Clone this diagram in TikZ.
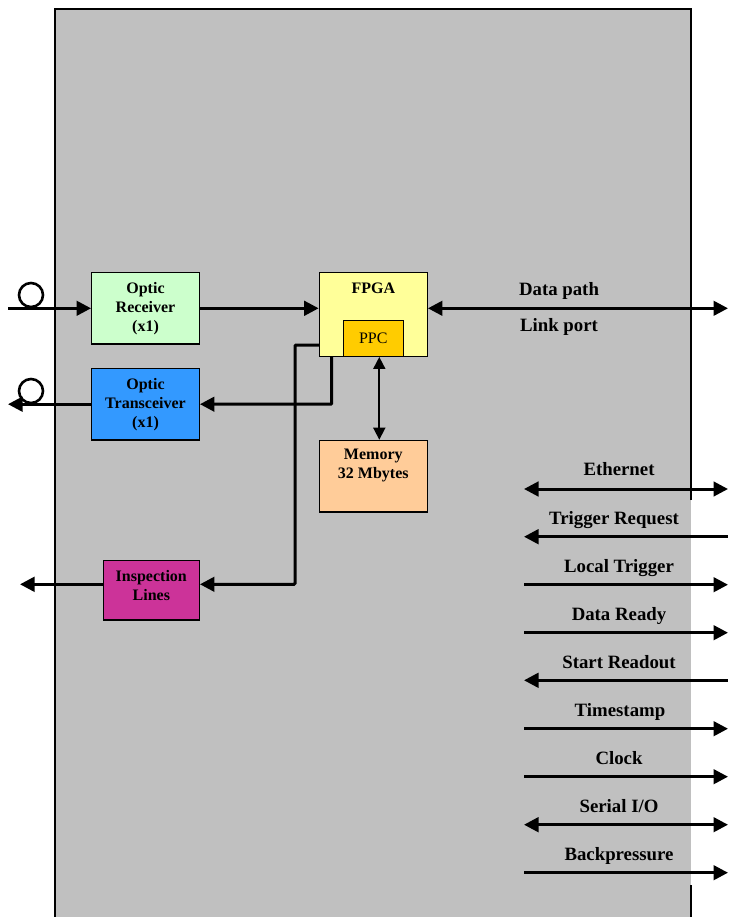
\documentclass[tikz,border=0pt]{standalone}
\usepackage{fontspec}
\setmainfont{Liberation Serif}
\usetikzlibrary{arrows.meta}
\definecolor{panelgray}{HTML}{C0C0C0}
\definecolor{rxgreen}{HTML}{CCFFCC}
\definecolor{fpgayellow}{HTML}{FFFF99}
\definecolor{ppcorange}{HTML}{FFCC00}
\definecolor{txblue}{HTML}{3399FF}
\definecolor{mempeach}{HTML}{FFCC99}
\definecolor{inspmagenta}{HTML}{CC3399}
\tikzset{
  blk/.style={draw=black, line width=1.3pt, rectangle, inner sep=0pt, align=center,
    font=\fontsize{16}{19}\selectfont\bfseries},
  lbl/.style={inner sep=0pt, font=\fontsize{16}{19}\selectfont\bfseries},
  siglbl/.style={inner sep=0pt, anchor=base, font=\fontsize{18.8}{22}\selectfont\bfseries},
  wire/.style={line width=3pt, -{Triangle[length=14.5pt,width=14.5pt]}},
  wireboth/.style={line width=3pt, {Triangle[length=14.5pt,width=14.5pt]}-{Triangle[length=14.5pt,width=14.5pt]}},
  wireleft/.style={line width=3pt, {Triangle[length=14.5pt,width=14.5pt]}-},
  thinboth/.style={line width=1.7pt, {Triangle[length=12pt,width=12pt]}-{Triangle[length=12pt,width=12pt]}},
  fibre/.style={circle, draw=black, line width=2.6pt, minimum size=24pt, inner sep=0pt},
}
\begin{document}
\begin{tikzpicture}[x=1pt, y=-1pt]
\useasboundingbox (0,0) rectangle (731,917);

% backplane panel
\fill[panelgray] (55,9) rectangle (691,917);
\draw[line width=1.3pt] (691,500) -- (691,9) -- (55,9) -- (55,917);
\draw[line width=1.3pt] (691,885) -- (691,917);

% function blocks
\node[blk, fill=rxgreen, minimum width=107.6pt, minimum height=71.3pt] (rx) at (145.5,308.3)
  {Optic\\Receiver\\(x1)};
\node[blk, fill=txblue, minimum width=107.6pt, minimum height=71.7pt] (tx) at (145.5,404.2)
  {Optic\\Transceiver\\(x1)};
\node[blk, fill=fpgayellow, minimum width=108pt, minimum height=83.6pt] (fpga) at (373.3,314.5) {};
\node[lbl] (fpgalbl) at (373.3,288) {FPGA};
\node[blk, fill=ppcorange, minimum width=60pt, minimum height=36pt,
  font=\fontsize{16}{19}\selectfont\mdseries] (ppc) at (373.3,338.3) {PPC};
\node[blk, fill=mempeach, minimum width=108pt, minimum height=71.7pt] (mem) at (373.3,476.2) {};
\node[lbl, align=center] (memlbl) at (373.3,465) {Memory\\32 Mbytes};
\node[blk, fill=inspmagenta, minimum width=96pt, minimum height=59.3pt] (insp) at (151.3,590.3) {};
\node[lbl, align=center] (insplbl) at (151.3,585.5) {Inspection\\Lines};

% fibre loops
\node[fibre] (fin) at (31,295) {};
\node[fibre] (fout) at (31,391) {};

% optical path
\coordinate (inend) at (8,308.3);
\coordinate (outend) at (8,404.2);
\draw[wire] (inend) -- (rx.west);
\draw[wire] (rx.east) -- (rx.east -| fpga.west);
\draw[wire] (tx.west) -- (outend);

% FPGA to transceiver
\coordinate (fp1) at (331.7,356.3);
\draw[wire, rounded corners=1pt] (fp1) |- (tx.east);

% FPGA to inspection lines
\coordinate (fp2) at (319.3,345);
\coordinate (ilev) at (0,584.3);
\coordinate (inspout) at (20,584.3);
\draw[wire, rounded corners=1pt] (fp2) -- (295,345) |- (insp.east |- ilev);
\draw[wire] (insp.west |- ilev) -- (inspout);

% PPC to memory
\coordinate (pm) at (379.3,0);
\draw[thinboth] (ppc.south -| pm) -- (mem.north -| pm);

% data path / link port
\coordinate (dpend) at (728,308.3);
\draw[wireboth] (fpga.east |- dpend) -- (dpend);
\node[siglbl] (dplbl) at (559,295) {Data path};
\node[siglbl] (lplbl) at (559,331) {Link port};

% backplane signals
\foreach \name/\txt/\y/\sty/\lx/\ly in {
  eth/{Ethernet}/489/wireboth/619/14,
  trq/{Trigger Request}/536.7/wireleft/614/12.6,
  ltr/{Local Trigger}/584.7/wire/619/12.3,
  drd/{Data Ready}/632.7/wire/619/12.2,
  srd/{Start Readout}/680.3/wireleft/619/12.2,
  tst/{Timestamp}/728.7/wire/620/12.2,
  clk/{Clock}/776.7/wire/619/12.2,
  sio/{Serial I\slash O}/824.7/wireboth/619/12.2,
  bkp/{Backpressure}/872.7/wire/619/12.2} {
  \coordinate (\name a) at (524,\y);
  \coordinate (\name b) at (728,\y);
  \draw[\sty] (\name a) -- (\name b);
  \node[siglbl] (\name lbl) at (\lx,\y-\ly) {\txt};
}
\end{tikzpicture}
\end{document}
